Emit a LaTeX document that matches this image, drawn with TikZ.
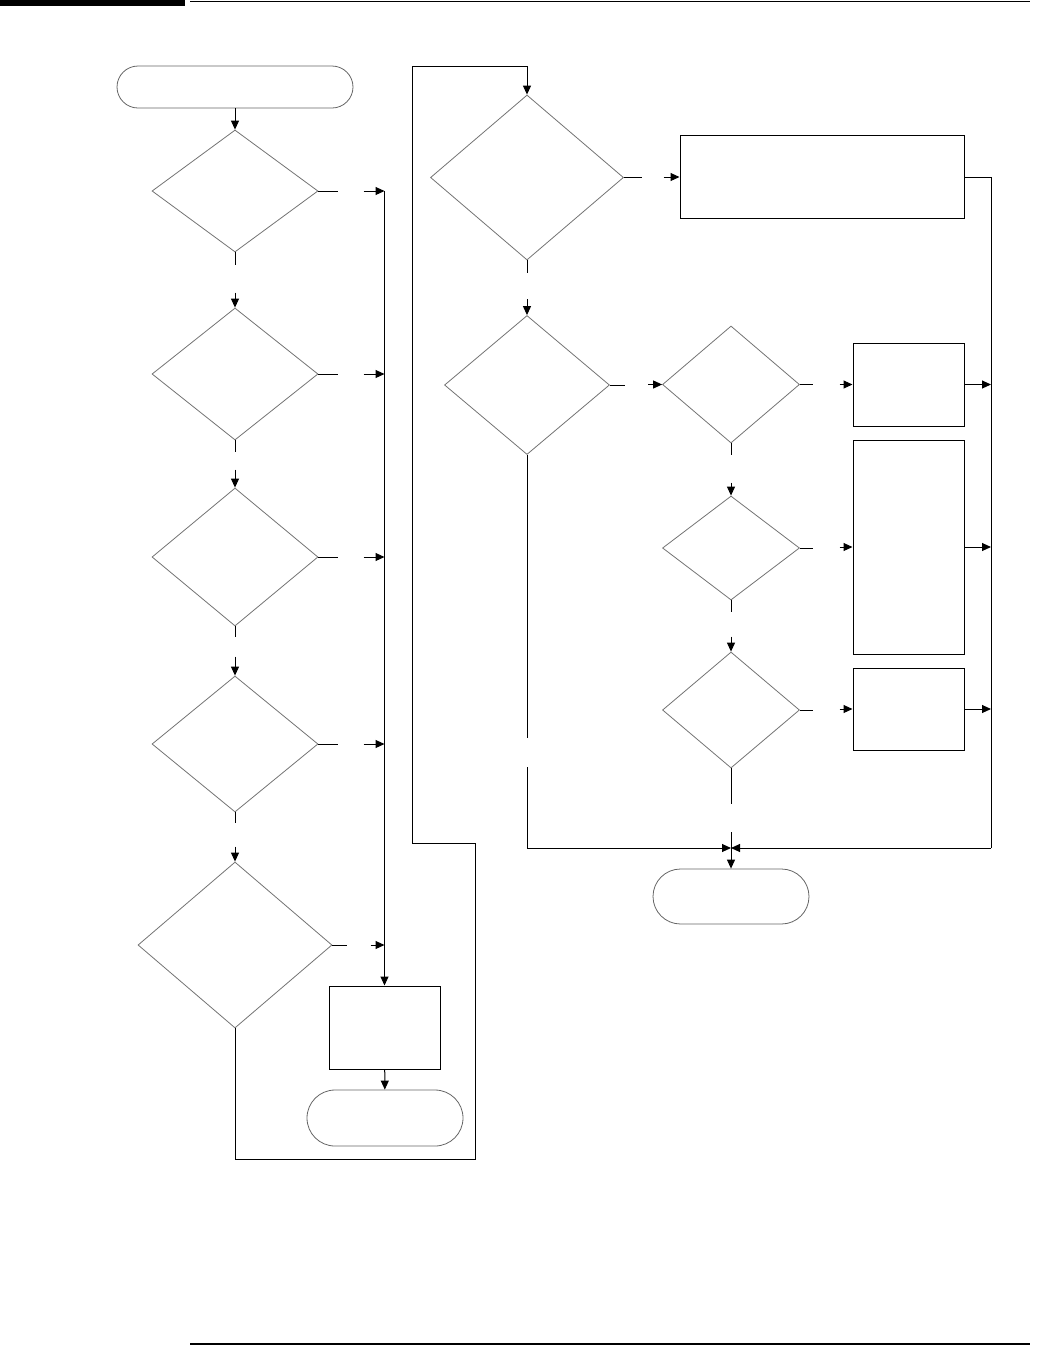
\documentclass[tikz,border=0pt]{standalone}
\usetikzlibrary{shapes.geometric,arrows.meta,calc}
\begin{document}
\begin{tikzpicture}[x=1pt,y=-1pt,
  dec/.style={diamond,draw=black!55,line width=0.8pt,inner sep=0pt},
  term/.style={rectangle,rounded corners=21pt,draw=black!60,line width=0.8pt,inner sep=0pt},
  boxn/.style={rectangle,draw=black,line width=1pt,inner sep=0pt},
  con/.style={line width=1pt,black},
  arr/.style={con,-{Triangle[length=9pt,width=8pt]}}]
\useasboundingbox (0,0) rectangle (1045,1345);
% page rules
\fill[black] (0,0) rectangle (185,5.5);
\draw[line width=1pt] (190,1) -- (1030,1);
\draw[line width=1.2pt] (190,1344) -- (1030,1344);
% left column
\node[term,minimum width=236pt,minimum height=42pt] (t1) at (235,87) {};
\node[dec,minimum width=166pt,minimum height=122pt] (d1) at (235,191) {};
\node[dec,minimum width=166pt,minimum height=132pt] (d2) at (235,374) {};
\node[dec,minimum width=166pt,minimum height=138pt] (d3) at (235,557) {};
\node[dec,minimum width=166pt,minimum height=136pt] (d4) at (235,744) {};
\node[dec,minimum width=194pt,minimum height=166pt] (d5) at (235,945) {};
\node[boxn,minimum width=111pt,minimum height=83pt] (b0) at (384.5,1027.5) {};
\node[term,rounded corners=28pt,minimum width=156pt,minimum height=56pt] (t2) at (385,1118) {};
% right part
\node[dec,minimum width=193pt,minimum height=165pt] (d6) at (527,177.5) {};
\node[boxn,minimum width=284pt,minimum height=83pt] (b1) at (822,177) {};
\node[dec,minimum width=165pt,minimum height=139pt] (d7) at (527,385) {};
\node[dec,minimum width=137pt,minimum height=117pt] (d8) at (731,384.5) {};
\node[dec,minimum width=137pt,minimum height=104pt] (d9) at (731,548) {};
\node[dec,minimum width=137pt,minimum height=116pt] (d10) at (731,710) {};
\node[boxn,minimum width=111pt,minimum height=83pt] (b2) at (908.5,384.5) {};
\node[boxn,minimum width=111pt,minimum height=214pt] (b3) at (908.5,547) {};
\node[boxn,minimum width=111pt,minimum height=82pt] (b4) at (908.5,709) {};
\node[term,rounded corners=27.5pt,minimum width=156pt,minimum height=55pt] (t3) at (731,896.5) {};
% bus coordinates
\coordinate (bus1) at (384.5,191);
\coordinate (bus2) at (384.5,374);
\coordinate (bus3) at (384.5,557);
\coordinate (bus4) at (384.5,744);
\coordinate (bus5) at (384.5,945);
\coordinate (rbusT) at (991,177);
\coordinate (rbusB) at (991,848);
\coordinate (merge) at (731,848);
% left column connectors
\draw[arr] (t1) -- (d1);
\draw[con] (d1.east) -- ++(20,0);
\draw[arr] ($(bus1)+(-21,0)$) -- (bus1);
\draw[con] (d2.east) -- ++(20,0);
\draw[arr] ($(bus2)+(-21,0)$) -- (bus2);
\draw[con] (d3.east) -- ++(20,0);
\draw[arr] ($(bus3)+(-21,0)$) -- (bus3);
\draw[con] (d4.east) -- ++(20,0);
\draw[arr] ($(bus4)+(-21,0)$) -- (bus4);
\draw[con] (d5.east) -- ++(15,0);
\draw[arr] ($(bus5)+(-14,0)$) -- (bus5);
\draw[arr] (bus1) -- (b0);
\draw[arr] (b0) -- (t2);
\draw[con] (d1.south) -- ++(0,13);
\draw[arr] ($(d2.north)+(0,-15)$) -- (d2.north);
\draw[con] (d2.south) -- ++(0,12);
\draw[arr] ($(d3.north)+(0,-18)$) -- (d3.north);
\draw[con] (d3.south) -- ++(0,11);
\draw[arr] ($(d4.north)+(0,-19)$) -- (d4.north);
\draw[con] (d4.south) -- ++(0,11);
\draw[arr] ($(d5.north)+(0,-15)$) -- (d5.north);
% loop to right part
\draw[arr] (d5.south) |- (475,1159) |- (412,843) |- (527,66) -- (d6.north);
% right part connectors
\draw[con] (d6.east) -- ++(18,0);
\draw[arr] ($(b1.west)+(-16,0)$) -- (b1.west);
\draw[con] (b1.east) -- (b1.east -| rbusT) -- (rbusB);
\draw[arr] (rbusB) -- (merge);
\draw[con] (d6.south) -- ++(0,13);
\draw[arr] ($(d7.north)+(0,-16)$) -- (d7.north);
\draw[con] (d7.east) -- ++(15,0);
\draw[arr] ($(d8.west)+(-14,0)$) -- (d8.west);
\draw[con] (d7.south) -- (527,738);
\draw[arr] (527,767) |- (merge);
\draw[con] (d8.east) -- ++(13,0);
\draw[arr] ($(b2.west)+(-13,0)$) -- (b2.west);
\draw[con] (d9.east) -- ++(13,0);
\draw[arr] ($(b3.west)+(-13,0)$) -- (b3.west);
\draw[con] (d10.east) -- ++(13,0);
\draw[arr] ($(b4.west)+(-13,0)$) -- (b4.west);
\draw[arr] (b2.east) -- (b2.east -| rbusT);
\draw[arr] (b3.east) -- (b3.east -| rbusT);
\draw[arr] (b4.east) -- (b4.east -| rbusT);
\draw[con] (d8.south) -- ++(0,12);
\draw[arr] ($(d9.north)+(0,-13)$) -- (d9.north);
\draw[con] (d9.south) -- ++(0,12);
\draw[arr] ($(d10.north)+(0,-15)$) -- (d10.north);
\draw[con] (d10.south) -- ++(0,36);
\draw[arr] (731,832) -- (t3.north);
\end{tikzpicture}
\end{document}
